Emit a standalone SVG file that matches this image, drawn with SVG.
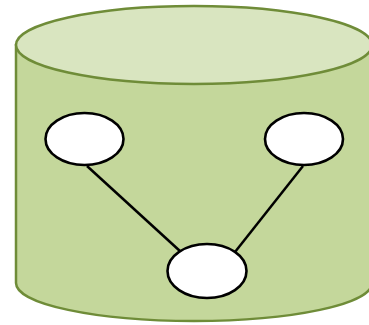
<svg xmlns="http://www.w3.org/2000/svg" width="369" height="325" viewBox="0 0 369 325">
<style>
.cyl{stroke:#6f8c38;stroke-width:2.5}
.node{fill:#ffffff;stroke:#000000;stroke-width:2.6}
.edge{stroke:#000000;stroke-width:2.5;fill:none}
</style>
<rect width="369" height="325" fill="#ffffff"/>
<g id="database">
<path class="cyl" d="M16,45 V283 A178,38 0 0 0 372,283 V45 Z" fill="#c4d79b"/>
<ellipse class="cyl" cx="194" cy="45" rx="178" ry="39" fill="#d9e5c0"/>
</g>
<g id="connectors">
<line class="edge" x1="87" y1="166" x2="181" y2="252"/>
<line class="edge" x1="303" y1="166" x2="235" y2="252"/>
</g>
<g id="node-left"><ellipse class="node" cx="84.5" cy="139" rx="39" ry="26"/></g>
<g id="node-right"><ellipse class="node" cx="304" cy="139" rx="39" ry="26"/></g>
<g id="node-bottom"><ellipse class="node" cx="207" cy="271" rx="39.5" ry="27"/></g>
</svg>
